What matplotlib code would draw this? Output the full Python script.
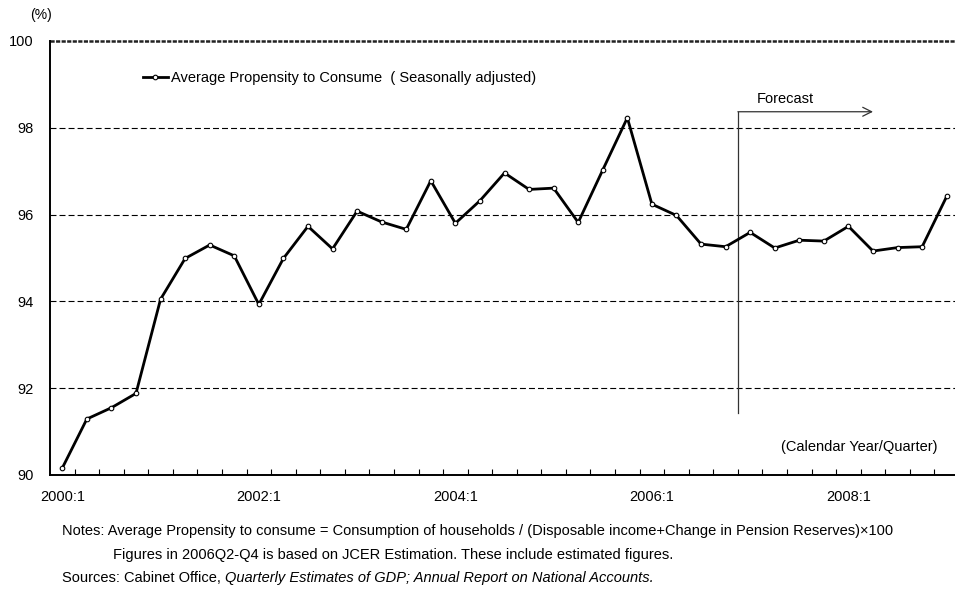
import numpy as np
import matplotlib
matplotlib.use('Agg')
from matplotlib import pyplot as plt

plt.rcParams['font.family'] = ['Liberation Sans', 'DejaVu Sans']
plt.rcParams['lines.scale_dashes'] = False

#Data: average propensity to consume, seasonally adjusted, 2000Q1 - 2009Q1
quarters = ['2000:1', '2000:2', '2000:3', '2000:4',
            '2001:1', '2001:2', '2001:3', '2001:4',
            '2002:1', '2002:2', '2002:3', '2002:4',
            '2003:1', '2003:2', '2003:3', '2003:4',
            '2004:1', '2004:2', '2004:3', '2004:4',
            '2005:1', '2005:2', '2005:3', '2005:4',
            '2006:1', '2006:2', '2006:3', '2006:4',
            '2007:1', '2007:2', '2007:3', '2007:4',
            '2008:1', '2008:2', '2008:3', '2008:4',
            '2009:1']
apc = [90.16, 91.29, 91.55, 91.88, 94.05, 94.99, 95.30, 95.05,
       93.93, 94.99, 95.73, 95.21, 96.08, 95.83, 95.66, 96.78,
       95.80, 96.32, 96.96, 96.58, 96.61, 95.82, 97.03, 98.23,
       96.24, 95.98, 95.32, 95.26, 95.59, 95.23, 95.41, 95.39,
       95.73, 95.16, 95.24, 95.26, 96.42]
label_quarters = ['2000:1', '2002:1', '2004:1', '2006:1', '2008:1']
y_ticks = [90, 92, 94, 96, 98, 100]

fs = 10.5
W, H = 955, 589
fig = plt.figure(figsize=(W/100, H/100), dpi=100)
ax = fig.add_axes([50/W, 1-475/H, 909/W, 434/H])

x = np.arange(len(quarters))
ax.plot(x, apc, color='black', lw=2, marker='o', ms=3.3, mfc='white', mec='black', mew=0.8,
        label='Average Propensity to Consume  ( Seasonally adjusted)', zorder=5)

ax.set_xlim(-0.5, len(quarters)-0.5)
ax.set_ylim(90, 100)

#gridlines
for v in y_ticks[1:-1]:
    ax.axhline(v, color='black', lw=0.8, dashes=(4.3, 2.2), zorder=1)
ax.axhline(100, color='#222222', lw=1.8, dashes=(3, 1), zorder=1, clip_on=False)

for s in ['top', 'right']:
    ax.spines[s].set_visible(False)
ax.spines['left'].set_linewidth(1.4)
ax.spines['bottom'].set_linewidth(1.4)

ax.set_yticks(y_ticks)
ax.tick_params(axis='y', length=0, pad=12, labelsize=fs)

lab_idx = [quarters.index(q) for q in label_quarters]
ax.set_xticks(lab_idx)
ax.set_xticklabels(label_quarters)
ax.set_xticks(np.arange(0.5, len(quarters)-1, 1), minor=True)
ax.tick_params(axis='x', which='major', length=0, pad=11, labelsize=fs)
ax.tick_params(axis='x', which='minor', direction='in', length=4, width=0.8)

#forecast marker
fc_start = 27.5
ax.plot([fc_start, fc_start], [91.43, 98.37], color='#333333', lw=0.9)
ax.annotate('', xy=(33.0, 98.37), xytext=(fc_start, 98.37),
            arrowprops=dict(arrowstyle='->', lw=0.9, color='#333333', mutation_scale=16, shrinkA=0, shrinkB=0))
ax.text(28.27, 98.67, 'Forecast', fontsize=fs, va='center', ha='left')

ax.legend(loc='center left', bbox_to_anchor=(143/W, 1-78/H), bbox_transform=fig.transFigure,
          frameon=False, fontsize=fs, handlelength=1.7, handletextpad=0.25,
          borderpad=0, borderaxespad=0)

fig.text(30/W, 1-15/H, '(%)', fontsize=10, va='center', ha='left')
fig.text(937/W, 1-447/H, '(Calendar Year/Quarter)', fontsize=fs, va='center', ha='right')

fig.text(62/W, 1-531/H, 'Notes: Average Propensity to consume = Consumption of households / '
         '(Disposable income+Change in Pension Reserves)\u00d7100', fontsize=fs, va='center')
fig.text(113/W, 1-555/H, 'Figures in 2006Q2-Q4 is based on JCER Estimation. These include estimated figures.',
         fontsize=fs, va='center')
src = fig.text(62/W, 1-578/H, 'Sources: Cabinet Office, ', fontsize=fs, va='center')
ax.annotate('Quarterly Estimates of GDP; Annual Report on National Accounts.', xy=(1, 0), xycoords=src,
            va='bottom', ha='left', fontsize=fs, style='italic', annotation_clip=False)

fig.savefig('out.png', dpi=100)
